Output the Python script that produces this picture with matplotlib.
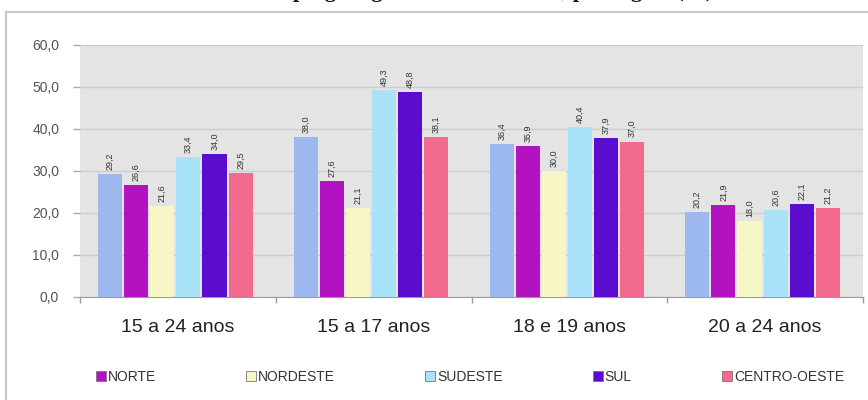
import matplotlib
matplotlib.use("Agg")
import matplotlib.pyplot as plt
from matplotlib.patches import Patch, Rectangle
import numpy as np

# grupos de idade
groups = ["15 a 24 anos", "15 a 17 anos", "18 e 19 anos", "20 a 24 anos"]

# series (the first one has no legend entry in the original)
brasil = [29.2, 38.0, 36.4, 20.2]
norte = [26.6, 27.6, 35.9, 21.9]
nordeste = [21.6, 21.1, 30.0, 18.0]
sudeste = [33.4, 49.3, 40.4, 20.6]
sul = [34.0, 48.8, 37.9, 22.1]
centro_oeste = [29.5, 38.1, 37.0, 21.2]

series = [brasil, norte, nordeste, sudeste, sul, centro_oeste]
names = ["BRASIL", "NORTE", "NORDESTE", "SUDESTE", "SUL", "CENTRO-OESTE"]
colors = ["#9db8ee", "#b212bf", "#f7f7c6", "#a8e3fa", "#5a0ccf", "#f26b8f"]

plt.rcParams["font.family"] = ["Liberation Sans", "DejaVu Sans"]

fig = plt.figure(figsize=(8.68, 4.0), dpi=100)

# outer chart frame (cut off at bottom/right like the reference)
fig.add_artist(Rectangle((6 / 868, -0.1), 1.2, 1.1 - 12 / 400, transform=fig.transFigure,
                         fill=False, edgecolor="#c9c9c9", lw=1.6))

# title, mostly cut off at the top edge (only its lower part shows)
fig.text(0.5, 1 + 3.5 / 400, "Taxa de desemprego segundo a faixa etária, por região (%)",
         ha="center", va="baseline", fontsize=16, fontweight="bold",
         family=["Liberation Serif", "DejaVu Serif"], color="#111111")

ax = fig.add_axes([80 / 868, 103 / 400, 783 / 868, 252 / 400])
ax.set_facecolor("#e4e4e4")

x = np.arange(len(groups))
slot = 0.1333
width = 0.123
for i, (vals, col) in enumerate(zip(series, colors)):
    pos = x + (i - 2.5) * slot - 0.013
    ax.bar(pos, vals, width=width, color=col, zorder=3)
    for px, v in zip(pos, vals):
        ax.text(px, v + 1.0, f"{v:.1f}".replace(".", ","), rotation=90,
                ha="center", va="bottom", fontsize=6.5, color="#333333", zorder=4)

ax.set_ylim(0, 60)
ax.set_xlim(-0.5, 3.5)
yt = np.arange(0, 61, 10)
ax.set_yticks(yt)
ax.set_yticklabels([f"{v:.1f}".replace(".", ",") for v in yt], fontsize=10, color="#555555")
ax.yaxis.grid(True, color="#cdcdcd", lw=1.0, zorder=0)
ax.tick_params(axis="y", length=5, width=1, color="#aaaaaa", pad=10)

ax.set_xticks(x)
ax.set_xticklabels(groups, fontsize=14, color="#222222")
ax.set_xticks(np.arange(-0.5, 3.6, 1.0), minor=True)
ax.tick_params(axis="x", which="major", length=0, pad=16)
ax.tick_params(axis="x", which="minor", length=4, width=1, color="#999999")

for s in ["top", "right", "left"]:
    ax.spines[s].set_visible(False)
ax.spines["bottom"].set_color("#9a9a9a")

handles = [Patch(facecolor=c, edgecolor="#777777", lw=0.6) for c in colors[1:]]
fig.legend(handles, names[1:], loc="center", bbox_to_anchor=(470 / 868, 1 - 377 / 400),
           ncol=5, frameon=False, fontsize=10, handlelength=0.7, handleheight=0.7,
           handletextpad=0.15, columnspacing=6.5, labelcolor="#333333")

fig.savefig("out.png", dpi=100)
